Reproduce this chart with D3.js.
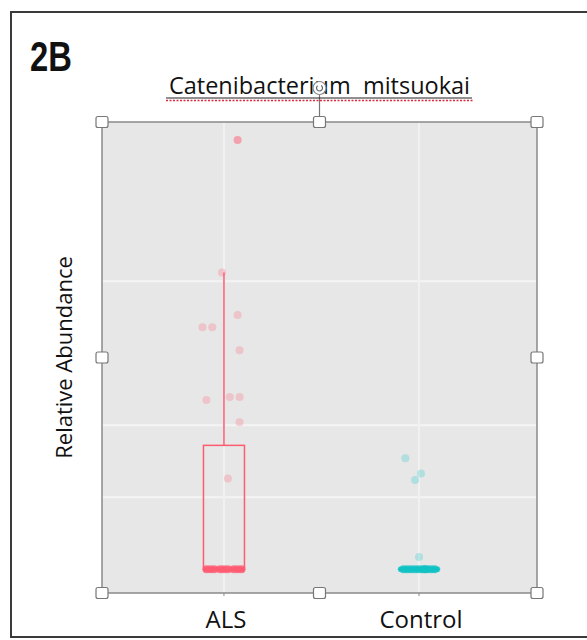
<!DOCTYPE html>
<html>
<head>
<meta charset="utf-8">
<script src="https://cdn.jsdelivr.net/npm/d3@7"></script>
<style>
  body { margin: 0; background: #fff; }
  svg { display: block; }
  .lbl { font-family: "Open Sans", "Liberation Sans", sans-serif; fill: #111; }
</style>
</head>
<body>
<script>
// data (relative abundance, x10^-3)
var groups = ["ALS", "Control"];
var alsValues = [5.96, 4.12, 3.53, 3.36, 3.36, 3.04, 2.39, 2.39, 2.35, 2.04, 1.26, 0, 0, 0, 0, 0, 0, 0, 0, 0];
var alsJitter = [0.07, -0.01, 0.07, -0.06, -0.11, 0.08, 0.03, 0.08, -0.09, 0.08, 0.02, -0.09, -0.07, -0.05, -0.02, 0, 0.02, 0.05, 0.07, 0.09];
var controlValues = [1.54, 1.33, 1.24, 0.17, 0, 0, 0, 0, 0, 0, 0, 0, 0, 0];
var controlJitter = [-0.07, 0.01, -0.02, 0, -0.08, -0.06, -0.04, -0.02, 0, 0.02, 0.04, 0.06, 0.08, 0.03];
var boxStats = [
  {group: "ALS", low: 0, q1: 0, median: 0, q3: 1.72, high: 4.12},
  {group: "Control", low: 0, q1: 0, median: 0, q3: 0, high: 0}
];
var gridValues = [1, 2, 4];

var width = 587, height = 640;
var panel = {left: 102, right: 537, top: 122, bottom: 593};
var colors = {ALS: "#ff5c72", Control: "#10c2c4"};

var svg = d3.select("body").append("svg")
  .attr("width", width).attr("height", height);

// outer picture frame
svg.append("rect")
  .attr("x", 11).attr("y", 12).attr("width", 620).attr("height", 625)
  .attr("fill", "#fff").attr("stroke", "#3a3a3a").attr("stroke-width", 2);

var x = d3.scalePoint().domain(groups).range([104, 539]).padding(0.615);
var y = d3.scaleLinear().domain([-0.33, 6.21]).range([panel.bottom, panel.top]);
var boxW = 41;

// panel
svg.append("rect")
  .attr("x", panel.left).attr("y", panel.top)
  .attr("width", panel.right - panel.left).attr("height", panel.bottom - panel.top)
  .attr("fill", "#e7e7e7");

svg.selectAll(".hgrid").data(gridValues).enter().append("line")
  .attr("x1", panel.left).attr("x2", panel.right)
  .attr("y1", function(d) { return y(d); }).attr("y2", function(d) { return y(d); })
  .attr("stroke", "#f4f4f4").attr("stroke-width", 2);

svg.selectAll(".vgrid").data(groups).enter().append("line")
  .attr("x1", function(d) { return x(d); }).attr("x2", function(d) { return x(d); })
  .attr("y1", panel.top).attr("y2", panel.bottom)
  .attr("stroke", "#f1f1f1").attr("stroke-width", 2);

// box plots
var box = svg.selectAll(".box").data(boxStats).enter().append("g");
box.append("line")
  .attr("x1", function(d) { return x(d.group); }).attr("x2", function(d) { return x(d.group); })
  .attr("y1", function(d) { return y(d.q3); }).attr("y2", function(d) { return y(d.high); })
  .attr("stroke", function(d) { return colors[d.group]; }).attr("stroke-width", 1.5);
box.append("rect")
  .attr("x", function(d) { return x(d.group) - boxW / 2; })
  .attr("y", function(d) { return y(d.q3); })
  .attr("width", boxW)
  .attr("height", function(d) { return Math.max(0.1, y(d.q1) - y(d.q3)); })
  .attr("fill", "none")
  .attr("stroke", function(d) { return colors[d.group]; }).attr("stroke-width", 1.5);
box.append("line")
  .attr("x1", function(d) { return x(d.group) - boxW / 2; })
  .attr("x2", function(d) { return x(d.group) + boxW / 2; })
  .attr("y1", function(d) { return y(d.median); }).attr("y2", function(d) { return y(d.median); })
  .attr("stroke", function(d) { return colors[d.group]; }).attr("stroke-width", 5);

// points
function drawPoints(group, values, jitter) {
  svg.selectAll(".pt-" + group).data(values).enter().append("circle")
    .attr("cx", function(d, i) { return x(group) + jitter[i] * x.step(); })
    .attr("cy", function(d) { return y(d); })
    .attr("r", 4)
    .attr("fill", colors[group])
    .attr("fill-opacity", function(d) { return d === 0 ? 0.8 : (d > 5 ? 0.5 : 0.25); });
}
drawPoints("ALS", alsValues, alsJitter);
drawPoints("Control", controlValues, controlJitter);

// selection frame + handles
svg.append("rect")
  .attr("x", panel.left).attr("y", panel.top)
  .attr("width", panel.right - panel.left).attr("height", panel.bottom - panel.top)
  .attr("fill", "none").attr("stroke", "#8a8a8a").attr("stroke-width", 1.5);

var midX = (panel.left + panel.right) / 2, midY = (panel.top + panel.bottom) / 2;
svg.append("line")
  .attr("x1", midX).attr("x2", midX).attr("y1", 94).attr("y2", panel.top)
  .attr("stroke", "#777").attr("stroke-width", 1.2);

// axis labels
svg.selectAll(".xlab").data(groups).enter().append("text")
  .attr("class", "lbl")
  .attr("x", function(d) { return x(d) + 2; })
  .attr("y", 628)
  .attr("text-anchor", "middle")
  .attr("font-size", "24px")
  .text(function(d) { return d; });

svg.selectAll(".xtick").data(groups).enter().append("line")
  .attr("x1", function(d) { return x(d); }).attr("x2", function(d) { return x(d); })
  .attr("y1", panel.bottom).attr("y2", panel.bottom + 3)
  .attr("stroke", "#888");

svg.append("text")
  .attr("class", "lbl")
  .attr("transform", "translate(72," + midY + ") rotate(-90)")
  .attr("text-anchor", "middle")
  .attr("font-size", "22px")
  .text("Relative Abundance");

// title
svg.append("text")
  .attr("class", "lbl")
  .attr("x", midX).attr("y", 94)
  .attr("text-anchor", "middle")
  .attr("font-size", "23.5px")
  .attr("xml:space", "preserve")
  .style("white-space", "pre")
  .text("Catenibacterium  mitsuokai");
svg.append("line")
  .attr("x1", 166).attr("x2", 472).attr("y1", 98).attr("y2", 98)
  .attr("stroke", "#222").attr("stroke-width", 1.2);
svg.append("line")
  .attr("x1", 166).attr("x2", 474).attr("y1", 100.5).attr("y2", 100.5)
  .attr("stroke", "#e0283c").attr("stroke-width", 1.5).attr("stroke-dasharray", "2,1.5");

// rotation handle
svg.append("circle")
  .attr("cx", midX).attr("cy", 88).attr("r", 6.5)
  .attr("fill", "#fff").attr("stroke", "#888").attr("stroke-width", 1.2);
svg.append("path")
  .attr("d", d3.arc()({innerRadius: 3, outerRadius: 3, startAngle: 0.6, endAngle: 5.6}))
  .attr("transform", "translate(" + midX + ",88)")
  .attr("fill", "none").attr("stroke", "#666").attr("stroke-width", 1.2);

var handles = [
  [panel.left, panel.top], [midX, panel.top], [panel.right, panel.top],
  [panel.left, midY], [panel.right, midY],
  [panel.left, panel.bottom], [midX, panel.bottom], [panel.right, panel.bottom]
];
svg.selectAll(".handle").data(handles).enter().append("rect")
  .attr("x", function(d) { return d[0] - 6; }).attr("y", function(d) { return d[1] - 5.5; })
  .attr("width", 12).attr("height", 11).attr("rx", 2)
  .attr("fill", "#fff").attr("stroke", "#777").attr("stroke-width", 1.2);

// panel tag
svg.append("text")
  .attr("transform", "translate(30,71) scale(0.78,1)")
  .attr("font-family", "'Liberation Sans Narrow', 'Liberation Sans', sans-serif")
  .attr("font-weight", "bold")
  .attr("font-size", "42px")
  .attr("fill", "#111")
  .text("2B");
</script>
</body>
</html>
